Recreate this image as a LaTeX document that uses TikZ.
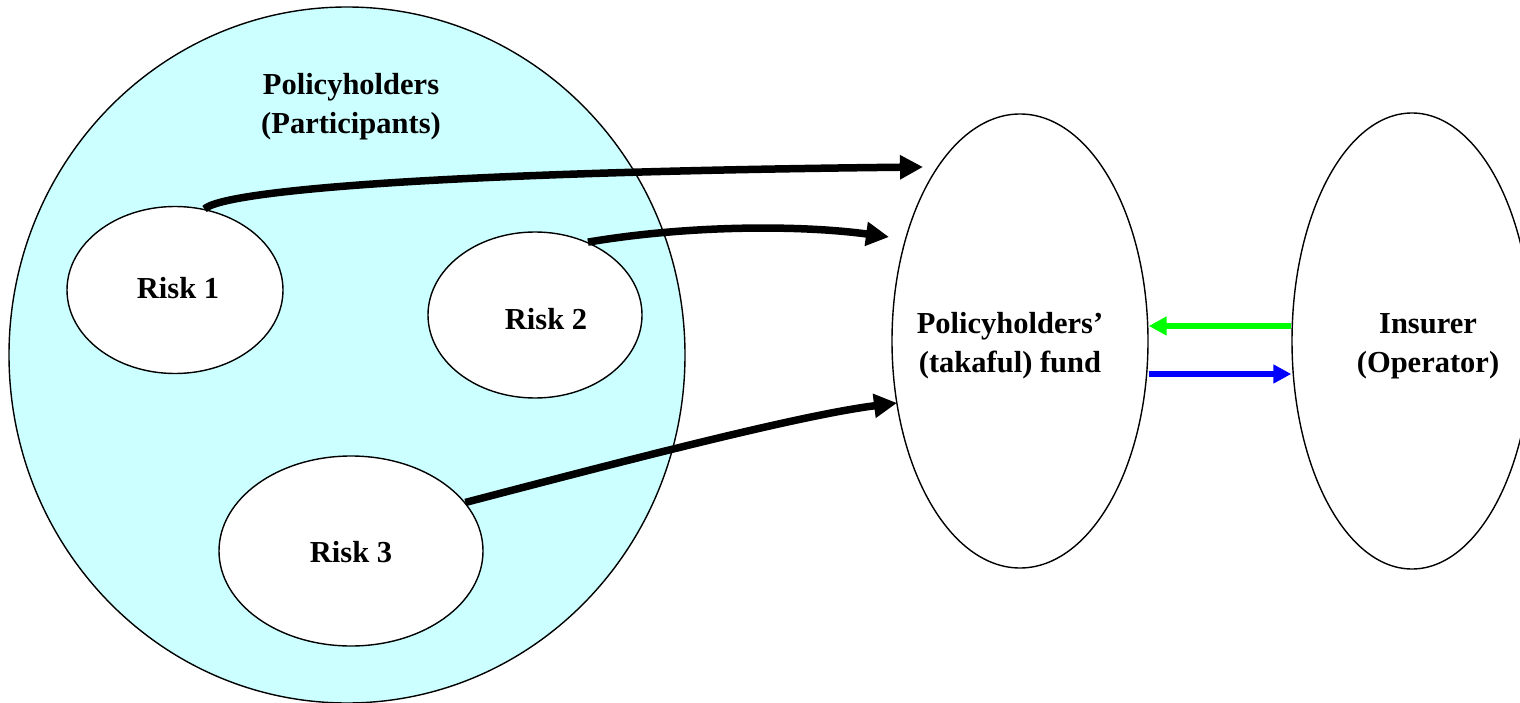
\documentclass[tikz,border=0pt]{standalone}
\usepackage{fontspec}
\setmainfont{Liberation Serif}
\usetikzlibrary{arrows.meta,shapes.geometric}
\definecolor{poolfill}{HTML}{CCFFFF}
\definecolor{flowgreen}{HTML}{00FF00}
\definecolor{flowblue}{HTML}{0000FF}
\tikzset{
  oval/.style={ellipse, draw=black, line width=1.4pt, inner sep=0pt},
  lbl/.style={font=\bfseries\fontsize{30.5}{39}\selectfont, align=center, inner sep=0pt},
  riskflow/.style={draw=black, line width=7.5pt, -{Triangle[length=23pt,width=23pt]}},
  cashflow/.style={line width=5.5pt, -{Triangle[length=18pt,width=18pt]}}
}
\begin{document}
\begin{tikzpicture}[x=1pt,y=-1pt]
  \clip (0,0) rectangle (1520,703);
  \fill[white] (0,0) rectangle (1520,703);

  % participants' pool
  \node[oval, fill=poolfill, minimum width=676pt, minimum height=696pt] (pool) at (347,355) {};
  \node[lbl] (pooltxt) at (351,107) {Policyholders\\(Participants)};

  % individual risks
  \node[oval, fill=white, minimum width=216pt, minimum height=167pt] (r1) at (175,290) {};
  \node[oval, fill=white, minimum width=214pt, minimum height=166pt] (r2) at (535,315) {};
  \node[oval, fill=white, minimum width=264pt, minimum height=190pt] (r3) at (351,551) {};
  \node[lbl] (r1txt) at (178,288) {Risk 1};
  \node[lbl] (r2txt) at (546,319) {Risk 2};
  \node[lbl] (r3txt) at (351,552) {Risk 3};

  % fund and operator
  \node[oval, fill=white, minimum width=256pt, minimum height=454pt] (fund) at (1020,341) {};
  \node[oval, fill=white, minimum width=240pt, minimum height=456pt] (ins) at (1412,341) {};
  \node[lbl] (fundtxt) at (1010,346) {Policyholders’\\(takaful) fund};
  \node[lbl] (instxt) at (1428,346) {Insurer\\(Operator)};

  % contributions into the fund
  \coordinate (t1) at (923,167);
  \coordinate (t2) at (889,237);
  \coordinate (t3) at (897,403);
  \draw[riskflow] (r1.70) .. controls (225,190) and (450,172) .. (t1);
  \draw[riskflow] (r2.54) .. controls (690,225) and (800,225) .. (t2);
  \draw[riskflow] (r3.23) .. controls (620,462) and (800,415) .. (t3);

  % exchanges between fund and operator
  \draw[cashflow, draw=flowgreen, fill=flowgreen] ([yshift=15pt]ins.west) -- ([yshift=15pt]fund.east);
  \draw[cashflow, draw=flowblue, fill=flowblue] ([yshift=-33pt]fund.east) -- ([yshift=-33pt]ins.west);
\end{tikzpicture}
\end{document}
